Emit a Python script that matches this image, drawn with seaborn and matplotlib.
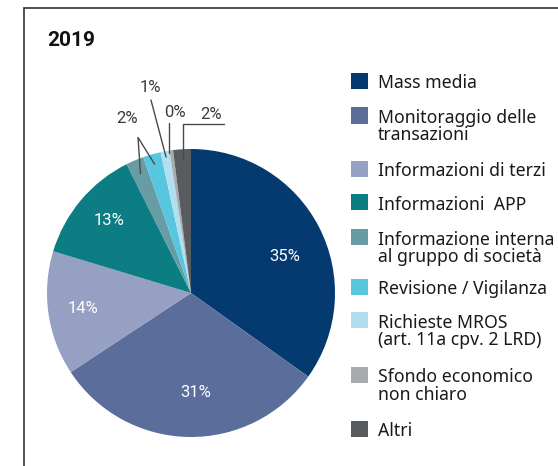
import numpy as np
import matplotlib
matplotlib.use("Agg")
import matplotlib.pyplot as plt
import seaborn as sns
from matplotlib.lines import Line2D
from matplotlib.patches import Rectangle

# data
categories = [
    "Mass media",
    "Monitoraggio delle\ntransazioni",
    "Informazioni di terzi",
    "Informazioni  APP",
    "Informazione interna\nal gruppo di società",
    "Revisione / Vigilanza",
    "Richieste MROS\n(art. 11a cpv. 2 LRD)",
    "Sfondo economico\nnon chiaro",
    "Altri",
]
shares = [35, 31, 14, 13, 2, 2, 1, 0.4, 2]
pct_labels = ["35%", "31%", "14%", "13%", "2%", "2%", "1%", "0%", "2%"]
colors = [
    "#053a70", "#5b6d9b", "#95a0c3", "#0b7d83", "#689ca5",
    "#58c6de", "#b1dff0", "#a9aaac", "#595c5e",
]
title = "2019"

W, H = 558, 466
sns.set_theme(style="white")
plt.rcParams["font.family"] = ["Roboto", "DejaVu Sans"]

fig = plt.figure(figsize=(W / 100, H / 100), dpi=100)

# pie axes: centre (191, 293) px, radius 144 px
cx, cy, R = 191, 293, 144
left, right, top, bottom = 40, 340, 70, 456
ax = fig.add_axes([left / W, 1 - bottom / H, (right - left) / W, (bottom - top) / H])

wedges, _ = ax.pie(shares, colors=colors, startangle=90, counterclock=False,
                   radius=1, wedgeprops=dict(linewidth=0))
ax.set_aspect("auto")
ax.set_xlim((left - cx) / R, (right - cx) / R)
ax.set_ylim((cy - bottom) / R, (cy - top) / R)
ax.axis("off")
mids = [np.deg2rad((w.theta1 + w.theta2) / 2) for w in wedges]


def at(i, r, shift=0.0):
    a = mids[i] + np.deg2rad(shift)
    return r * np.cos(a), r * np.sin(a)


# inside labels
inner = [(0, 0.70, -6), (1, 0.69, 4), (2, 0.76, 0), (3, 0.76, -1.5)]
for i, r, s in inner:
    x, y = at(i, r, s)
    ax.text(x, y, pct_labels[i], color="white", fontsize=12,
            ha="center", va="center")

lc = "#4a4a4a"
tc = "#3a3a3a"
lw = 1.0

# Altri - elbow leader
x0, y0 = at(8, 0.93)
ax.add_line(Line2D([x0, x0, 0.23], [y0, 1.174, 1.174], color=lc, lw=lw))
ax.text(0.14, 1.19, pct_labels[8], color=tc, fontsize=12,
        ha="center", va="bottom")

# Sfondo
x0, y0 = at(7, 0.98)
ax.add_line(Line2D([x0 - 0.02, x0 - 0.02], [y0, 1.18], color=lc, lw=lw))
ax.text(-0.11, 1.20, pct_labels[7], color=tc, fontsize=12,
        ha="center", va="bottom")

# MROS
x0, y0 = at(6, 0.96)
ax.add_line(Line2D([x0, -0.278], [y0, 1.34], color=lc, lw=lw))
ax.text(-0.285, 1.424, pct_labels[6], color=tc, fontsize=12,
        ha="center", va="center")

# Informazione interna + Revisione share one label
xa, ya = -0.368, 1.08
x4, y4 = at(4, 0.90)
x5, y5 = at(5, 0.93)
ax.add_line(Line2D([x4, xa, x5], [y4, ya, y5], color=lc, lw=lw))
ax.text(-0.444, 1.215, pct_labels[4], color=tc, fontsize=12,
        ha="center", va="center")

# title
fig.text(47 / W, 1 - 40 / H, title, fontsize=15, fontweight="bold",
         color="#111111", ha="left", va="center")

# legend
row_y = [81, 115.5, 169, 202, 237, 286.5, 320, 375, 428.5]
for cat, col, yc in zip(categories, colors, row_y):
    fig.add_artist(Rectangle((351 / W, 1 - (yc + 8) / H), 17 / W, 16 / H,
                             transform=fig.transFigure, facecolor=col,
                             edgecolor="none"))
    fig.text(378 / W, 1 - (yc - 6.5) / H, cat, fontsize=12.7,
             family=["Noto Sans", "DejaVu Sans"], color="#1a1a1a",
             ha="left", va="top", linespacing=0.93)

# frame
fig.add_artist(Line2D([24 / W, 24 / W], [0, 1 - 8 / H], transform=fig.transFigure,
                      color="#333333", lw=1.2))
fig.add_artist(Line2D([24 / W, 1], [1 - 8 / H, 1 - 8 / H], transform=fig.transFigure,
                      color="#333333", lw=1.2))

fig.savefig("out.png", dpi=100)
